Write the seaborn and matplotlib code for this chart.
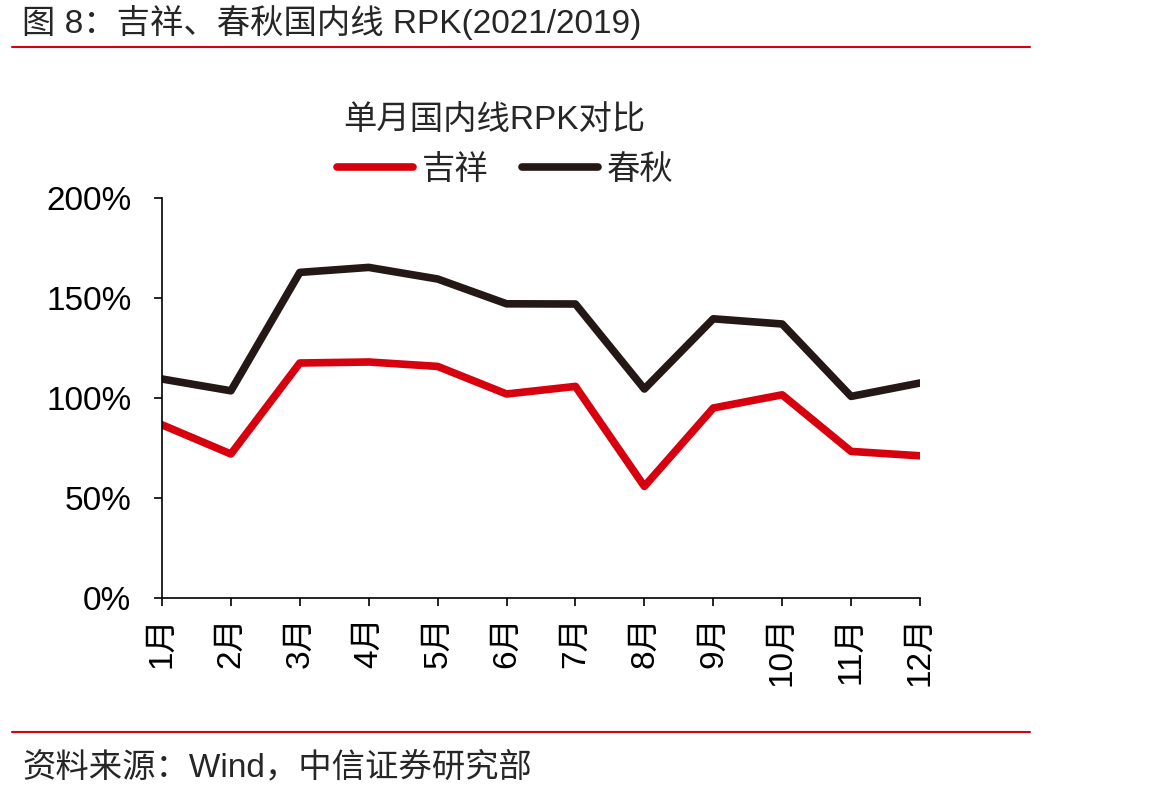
import pandas as pd
import seaborn as sns
import matplotlib.pyplot as plt
from matplotlib.ticker import FuncFormatter

# 单月国内线RPK对比 (2021/2019, %)
months = ['1月', '2月', '3月', '4月', '5月', '6月', '7月', '8月', '9月', '10月', '11月', '12月']
jixiang = [86.6, 72.0, 117.5, 118.0, 115.8, 102.0, 105.8, 55.8, 95.0, 101.6, 73.3, 71.1]
chunqiu = [109.5, 103.6, 162.8, 165.3, 159.5, 147.1, 147.0, 104.5, 139.6, 137.0, 100.8, 107.5]
series_names = ['吉祥', '春秋']
yticks = [0, 50, 100, 150, 200]

df = pd.DataFrame({'月份': months * 2,
                   'RPK': jixiang + chunqiu,
                   '航司': [series_names[0]] * len(months) + [series_names[1]] * len(months)})

sns.set_theme(style='white')
plt.rcParams['font.family'] = ['Liberation Sans', 'Noto Sans CJK SC', 'DejaVu Sans']
plt.rcParams['axes.unicode_minus'] = False

red = '#d7000f'
black = '#231815'
fs = 24

fig = plt.figure(figsize=(11.63, 7.97), dpi=100)
ax = fig.add_axes([162 / 1163, 1 - 598 / 797, 758 / 1163, 400 / 797])

sns.lineplot(data=df, x='月份', y='RPK', hue='航司', palette=[red, black],
             linewidth=5.5, sort=False, ax=ax, legend=False)

ax.set_xlim(0, len(months) - 1)
ax.set_ylim(0, 200)
ax.set_yticks(yticks)
ax.yaxis.set_major_formatter(FuncFormatter(lambda v, p: f'{v:.0f}%'))
ax.set_xticks(range(len(months)))
ax.set_xticklabels(months, rotation=90)
ax.set_xlabel('')
ax.set_ylabel('')
for s in ['top', 'right']:
    ax.spines[s].set_visible(False)
for s in ['left', 'bottom']:
    ax.spines[s].set_color('black')
    ax.spines[s].set_linewidth(1.2)
ax.tick_params(axis='both', direction='out', length=6, width=1.2, color='black',
               labelsize=fs, labelcolor='black', bottom=True, left=True)
ax.tick_params(axis='x', pad=7)
ax.tick_params(axis='y', pad=16)

# chart title and legend
fig.text(494 / 1163, 1 - 120 / 797, '单月国内线RPK对比', ha='center', va='center', fontsize=fs)
handles = [plt.Line2D([], [], color=red, lw=5.5, solid_capstyle='round'),
           plt.Line2D([], [], color=black, lw=5.5, solid_capstyle='round')]
fig.legend(handles, series_names, loc='center', bbox_to_anchor=(505 / 1163, 1 - 170 / 797),
           ncol=2, frameon=False, fontsize=fs, handlelength=2.3, handletextpad=0.25,
           columnspacing=1.0)

# report header / footer
fig.text(22 / 1163, 1 - 22 / 797, '图 8：吉祥、春秋国内线 RPK(2021/2019)', ha='left', va='center',
         fontsize=fs)
fig.add_artist(plt.Line2D([12 / 1163, 1030 / 1163], [1 - 47 / 797] * 2, color=red, lw=1.5))
fig.add_artist(plt.Line2D([12 / 1163, 1030 / 1163], [1 - 732 / 797] * 2, color=red, lw=1.5))
fig.text(22 / 1163, 1 - 768 / 797, '资料来源：Wind，中信证券研究部', ha='left', va='center',
         fontsize=fs)

fig.savefig('out.png', dpi=100, facecolor='white')
